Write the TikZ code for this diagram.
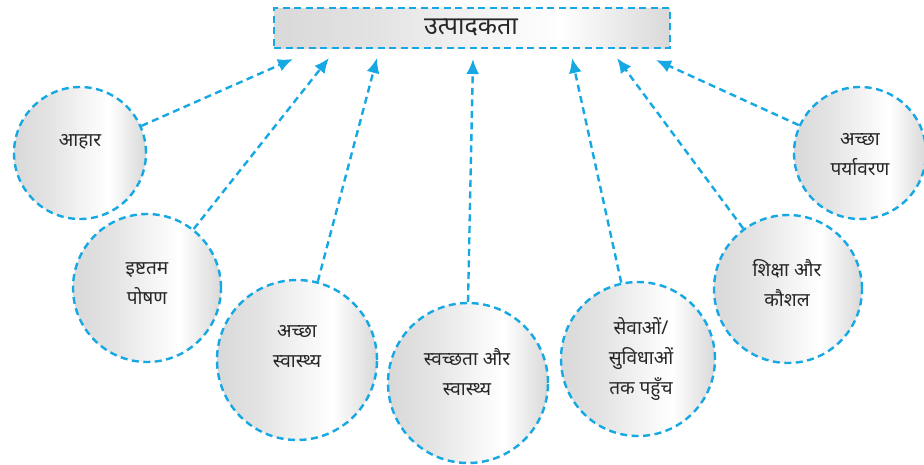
\documentclass[tikz,border=0pt]{standalone}
\usepackage{fontspec}
\newfontfamily\dev[Script=Devanagari]{Noto Sans}
\usetikzlibrary{arrows.meta}
\definecolor{dashblue}{RGB}{22,168,226}
\definecolor{inkc}{RGB}{40,38,40}
\pgfdeclarehorizontalshading{bubshade}{100bp}{color(0bp)=(black!15); color(25bp)=(black!15); color(38bp)=(black!11); color(50bp)=(black!5); color(61bp)=(white); color(75bp)=(black!15); color(100bp)=(black!15)}
\tikzset{
  dashline/.style={draw=dashblue, line width=2.4pt, dash pattern=on 7pt off 4.5pt},
  bubble/.style={circle, dashline, shading=bubshade, inner sep=0pt},
  topbox/.style={rectangle, dashline, shading=bubshade, inner sep=0pt},
  lbl/.style={font=\dev\fontsize{19}{30}\selectfont, text=inkc, align=center},
  toplbl/.style={font=\dev\fontsize{25}{30}\selectfont, text=inkc},
  link/.style={dashline, -{Latex[length=15pt,width=13pt]}},
}
\begin{document}
\begin{tikzpicture}[x=1pt,y=1pt]
\useasboundingbox (0,0) rectangle (924,-464);
% top box
\node (top) [topbox, minimum width=396pt, minimum height=40pt] at (472,-28) {};
\node (toptext) [toplbl] at (471,-28) {उत्पादकता};
% circles
\node (c1) [bubble, minimum size=132pt] at (80,-153) {};
\node (c2) [bubble, minimum size=148pt] at (147,-288) {};
\node (c3) [bubble, minimum size=160pt] at (297,-360) {};
\node (c4) [bubble, minimum size=160pt] at (468,-383) {};
\node (c5) [bubble, minimum size=154pt] at (638,-359) {};
\node (c6) [bubble, minimum size=148pt] at (788,-289) {};
\node (c7) [bubble, minimum size=132pt] at (860,-153) {};
% labels
\node (t1) [lbl] at (80,-142) {आहार};
\node (t2) [lbl] at (147,-284) {इष्टतम\\पोषण};
\node (t3) [lbl] at (297,-347) {अच्छा\\स्वास्थ्य};
\node (t4) [lbl] at (467,-372) {स्वच्छता और\\स्वास्थ्य};
\node (t5) [lbl] at (641,-359) {सेवाओं/\\सुविधाओं\\तक पहुँच};
\node (t6) [lbl] at (787,-283) {शिक्षा और\\कौशल};
\node (t7) [lbl] at (860,-155) {अच्छा\\पर्यावरण};
% arrow targets
\coordinate (a1) at (293,-59);
\coordinate (a2) at (329,-58);
\coordinate (a3) at (377,-58);
\coordinate (a4) at (473,-59);
\coordinate (a5) at (572,-58);
\coordinate (a6) at (617,-58);
\coordinate (a7) at (656,-60);
% connectors
\draw[link] (c1) -- (a1);
\draw[link] (c2) -- (a2);
\draw[link] (c3) -- (a3);
\draw[link] (c4.north) -- (a4);
\draw[link] (c5) -- (a5);
\draw[link] (c6) -- (a6);
\draw[link] (c7) -- (a7);
\end{tikzpicture}
\end{document}
